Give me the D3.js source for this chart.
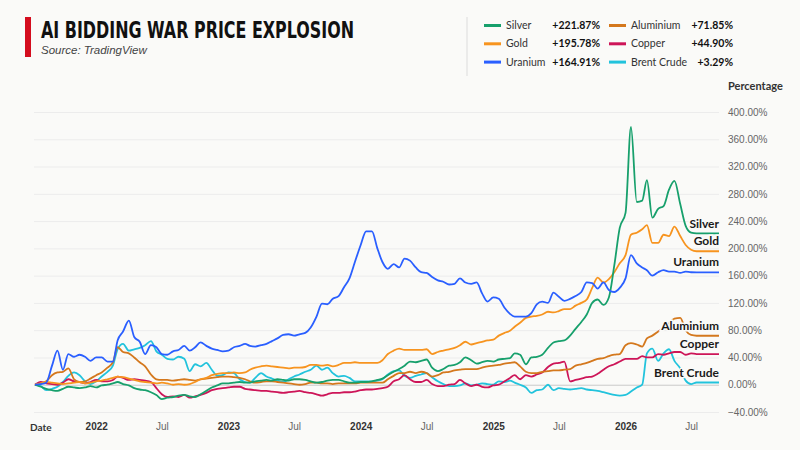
<!DOCTYPE html>
<html>
<head>
<meta charset="utf-8">
<script src="https://cdn.jsdelivr.net/npm/d3@7"></script>
<style>
	body { margin: 0; background: #fafaf8; }
	svg { display: block; font-family: Lato, "Noto Sans", sans-serif; }
</style>
</head>
<body>
<div id="chart-area"></div>
<script>

// ---- DATA (percentage change, semi-monthly from mid July 2021) ----

let seriesNames = ["Silver", "Gold", "Uranium", "Aluminium", "Copper", "Brent Crude"];

let silver = [0,-3,-6,-8,-9,-6,-3,-4,-5,-4, -2,-4,-1,0,2,4,1,-1,-5,-7,
	-8,-11,-15,-21,-19,-18,-16,-15,-17,-18, -14,-9,-4,-1,2,2,3,4,3,3,
	5,6,7,6,8,7,6,8,8,7, 5,3,4,6,7,7,5,3,3,4,
	4,5,7,9,14,19,23,28,34,33, 35,37,25,20,23,28,29,33,40,36,
	31,33,35,34,37,38,39,46,44,30, 40,41,44,54,62,64,65,72,82,92,
	103,120,125,117,128,175,230,252,378,268, 270,300,245,258,262,286,299,265,233,223,
	221.87,221.87,221.87,221.87,221.87];

let gold = [0,2,4,3,2,1,2,3,4,2, 3,5,6,8,10,12,11,9,7,5,
	4,3,2,3,2,0,1,0,1,4, 8,10,14,16,17,17,18,17,18,22,
	25,27,28,27,26,25,24,25,25,26, 29,29,28,29,27,29,32,32,33,32,
	32,32,32,36,45,50,53,51,51,51, 51,52,45,48,50,52,54,58,63,59,
	61,63,65,66,72,76,79,85,91,98, 100,101,103,107,106,108,111,111,116,120,
	125,142,157,150,155,165,178,190,220,223, 228,234,208,208,220,218,232,218,205,198,
	195.78,195.78,195.78,195.78,195.78];

let uranium = [0,1,3,28,50,22,45,41,44,41, 35,40,40,34,34,65,78,94,70,63,
	45,58,55,45,44,49,51,57,50,55, 62,57,53,51,49,50,55,57,60,57,
	56,58,60,64,68,73,74,72,74,76, 84,100,119,118,126,130,143,156,180,205,
	225,225,200,180,170,177,172,185,182,172, 165,164,158,153,151,147,148,156,150,148,
	150,134,122,128,126,113,104,100,100,100, 105,118,122,120,135,129,123,126,130,136,
	150,149,141,150,139,136,142,156,190,178, 172,168,160,165,168,166,166,164,166,165,
	164.91,164.91,164.91,164.91,164.91];

let aluminium = [0,2,5,14,18,19,24,8,4,5, 9,14,18,25,33,55,48,46,40,33,
	27,15,8,7,7,6,7,8,7,6, 8,9,10,11,12,12,11,10,8,5,
	3,4,5,5,4,3,2,1,0,1, 3,3,2,2,1,2,2,2,2,3,
	3,3,3,3,8,13,17,17,19,17, 19,17,12,14,18,19,21,22,23,23,
	23,25,27,28,29,31,32,33,27,19, 17,17,19,20,21,21,22,23,28,30,
	32,35,38,39,42,44,45,58,61,59, 56,68,72,78,84,90,97,98,80,73,
	71.85,71.85,71.85,71.85,71.85];

let copper = [0,4,2,1,0,3,8,5,4,2, 4,7,5,5,7,12,10,7,8,7,
	6,4,-5,-14,-18,-17,-18,-15,-19,-17, -15,-12,-8,-6,-5,-4,-3,-3,-6,-7,
	-8,-9,-9,-10,-11,-12,-11,-10,-9,-11, -12,-14,-16,-14,-12,-12,-11,-11,-10,-8,
	-7,-7,-6,-5,-3,5,8,14,8,4, 4,7,1,-2,-2,0,1,7,2,-2,
	0,-3,-4,-1,0,5,10,14,8,14, 12,15,18,26,31,32,34,5,7,9,
	11,12,16,22,27,30,34,38,38,38, 42,40,40,45,44,46,48,48,44,46,
	44.90,44.90,44.90,44.90,44.90];

let brent = [0,-2,-8,-6,-3,4,13,18,14,5, 1,5,12,19,28,52,60,50,52,54,
	58,64,49,44,38,37,41,38,20,30, 27,32,22,13,14,18,17,8,4,3,
	10,17,12,9,6,4,8,12,15,19, 22,28,22,25,17,12,13,10,5,5,
	5,5,6,8,15,20,21,13,10,13, 15,17,11,5,1,-2,-2,-1,2,-1,
	0,2,1,0,5,4,6,3,0,-4, -12,-8,-7,0,-8,-5,-6,-7,-6,-5,
	-7,-8,-9,-11,-13,-15,-16,-15,-10,-4, 0,46,53,35,46,52,35,24,6,1,
	3.29,3.29,3.29,3.29,3.29];

// dates: 16th and 1st of each month, Jul 16 2021 .. Sep 16 2026
let dates = d3.range(silver.length).map(i => i % 2 ? new Date(2021, 6 + (i + 1) / 2, 1) : new Date(2021, 6 + i / 2, 16));

let yTicks = [-40, 0, 40, 80, 120, 160, 200, 240, 280, 320, 360, 400];
let xTicks = [new Date(2022,0,1), new Date(2022,6,1), new Date(2023,0,1), new Date(2023,6,1), new Date(2024,0,1),
	new Date(2024,6,1), new Date(2025,0,1), new Date(2025,6,1), new Date(2026,0,1), new Date(2026,6,1)];

let seriesValues = [silver, gold, uranium, aluminium, copper, brent];
let colors = ["#17a06c", "#f7941f", "#2a5fff", "#d4781d", "#cd1558", "#22c3dc"];


// ---- CHART AREA ----

let width = 800, height = 450;
let plot = {left: 34, right: 719, top: 112, bottom: 412};

let svg = d3.select("#chart-area").append("svg")
	.attr("width", width)
	.attr("height", height);

svg.append("rect")
	.attr("width", width)
	.attr("height", height)
	.attr("fill", "#fafaf8");

let x = d3.scaleTime()
	.domain(d3.extent(dates))
	.range([35, plot.right]);

let y = d3.scaleLinear()
	.domain([-40, 400])
	.range([plot.bottom, plot.top]);


// ---- AXES ----

let yAxis = d3.axisRight(y)
	.tickValues(yTicks)
	.tickSize(plot.right - plot.left)
	.tickPadding(9)
	.tickFormat(d => d3.format(".2f")(d) + "%");

let yAxisGroup = svg.append("g")
	.attr("class", "y-axis")
	.attr("transform", "translate(" + plot.left + ",0)")
	.call(yAxis);

yAxisGroup.select(".domain").remove();
yAxisGroup.selectAll("line")
	.attr("stroke", d => d === 0 ? "#c9c9c9" : "#ececec")
	.attr("stroke-width", 1);
yAxisGroup.selectAll("text")
	.attr("fill", "#666")
	.style("font-size", "10px");

svg.append("text")
	.attr("x", 728)
	.attr("y", 86)
	.attr("dy", "0.35em")
	.attr("fill", "#333")
	.style("font-size", "11px")
	.style("font-weight", "bold")
	.text("Percentage");

let xAxis = d3.axisBottom(x)
	.tickValues(xTicks)
	.tickSize(0)
	.tickPadding(11)
	.tickFormat(d => d.getMonth() === 0 ? d.getFullYear() : "Jul");

let xAxisGroup = svg.append("g")
	.attr("class", "x-axis")
	.attr("transform", "translate(0," + plot.bottom + ")")
	.call(xAxis);

xAxisGroup.select(".domain").remove();
xAxisGroup.selectAll("text")
	.attr("fill", d => d.getMonth() === 0 ? "#333" : "#666")
	.style("font-weight", d => d.getMonth() === 0 ? "bold" : "normal")
	.style("font-size", "10px");

svg.append("text")
	.attr("x", 30)
	.attr("y", 431)
	.attr("fill", "#333")
	.style("font-size", "10px")
	.style("font-weight", "bold")
	.text("Date");


// ---- LINES ----

let line = d3.line()
	.x((d, i) => x(dates[i]))
	.y(d => y(d))
	.curve(d3.curveMonotoneX);

let drawOrder = [5, 4, 3, 1, 0, 2];

svg.append("g")
	.selectAll("path")
	.data(drawOrder)
	.enter()
	.append("path")
	.attr("d", k => line(seriesValues[k]))
	.attr("fill", "none")
	.attr("stroke", k => colors[k])
	.attr("stroke-width", 1.8)
	.attr("stroke-linejoin", "round");

// end labels
svg.append("g")
	.selectAll("text")
	.data(seriesNames)
	.enter()
	.append("text")
	.attr("x", plot.right)
	.attr("y", (d, k) => y(seriesValues[k][seriesValues[k].length - 1]) - 10)
	.attr("dy", "0.35em")
	.attr("text-anchor", "end")
	.attr("fill", "#1a1a1a")
	.attr("stroke", "#fafaf8")
	.attr("stroke-width", 3)
	.attr("paint-order", "stroke")
	.style("font-size", "12px")
	.style("font-weight", "bold")
	.text(d => d);


// ---- TITLE ----

svg.append("rect")
	.attr("x", 25)
	.attr("y", 17)
	.attr("width", 6)
	.attr("height", 40)
	.attr("fill", "#d40d1e");

svg.append("text")
	.attr("x", 41)
	.attr("y", 38)
	.attr("fill", "#111")
	.attr("textLength", 313)
	.attr("lengthAdjust", "spacingAndGlyphs")
	.style("font-family", "'Liberation Sans Narrow', 'DejaVu Sans Condensed', sans-serif")
	.style("font-size", "23px")
	.style("font-weight", "bold")
	.text("AI BIDDING WAR PRICE EXPLOSION");

svg.append("text")
	.attr("x", 41)
	.attr("y", 54)
	.attr("fill", "#444")
	.style("font-family", "'Liberation Sans', Arial, sans-serif")
	.style("font-size", "11.5px")
	.style("font-style", "italic")
	.text("Source: TradingView");


// ---- LEGEND ----

svg.append("line")
	.attr("x1", 467).attr("x2", 467)
	.attr("y1", 17).attr("y2", 76)
	.attr("stroke", "#dcdcdc");

let legend = svg.append("g")
	.selectAll("g")
	.data(seriesNames)
	.enter()
	.append("g")
	.attr("transform", (d, k) => "translate(" + (k < 3 ? 484 : 609) + "," + (25.5 + (k % 3) * 18.3) + ")");

legend.append("line")
	.attr("x1", 0).attr("x2", 17)
	.attr("stroke", (d, k) => colors[k])
	.attr("stroke-width", 3);

legend.append("text")
	.attr("x", 22)
	.attr("dy", "0.35em")
	.attr("fill", "#333")
	.style("font-size", "10.5px")
	.text(d => d);

legend.append("text")
	.attr("x", (d, k) => k < 3 ? 116 : 124)
	.attr("dy", "0.35em")
	.attr("text-anchor", "end")
	.attr("fill", "#111")
	.style("font-size", "10.5px")
	.style("font-weight", "bold")
	.text((d, k) => "+" + d3.format(".2f")(seriesValues[k][seriesValues[k].length - 1]) + "%");

</script>
</body>
</html>
